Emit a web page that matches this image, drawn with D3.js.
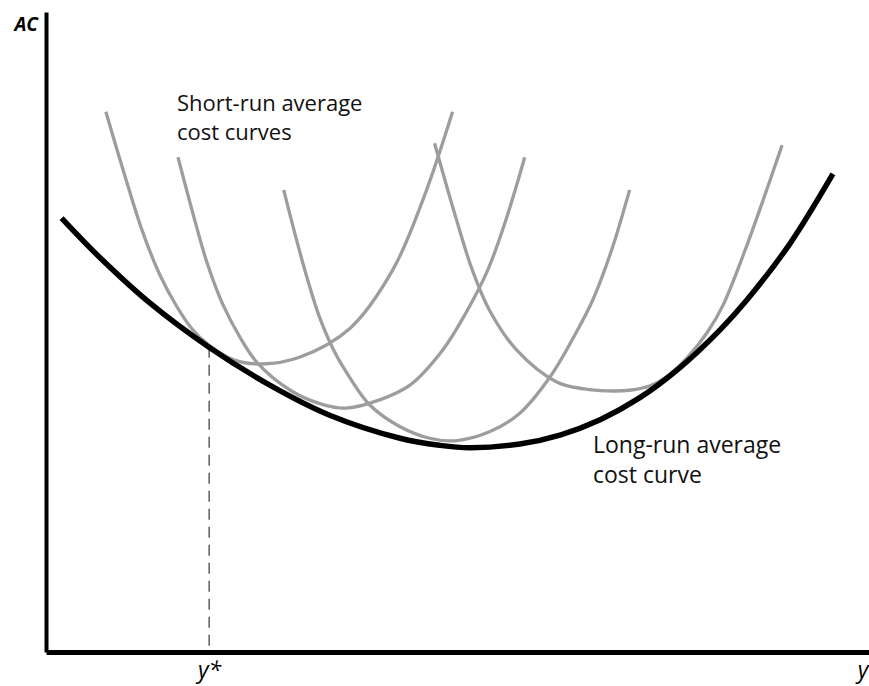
<!DOCTYPE html>
<html>
<head>
<meta charset="utf-8">
<script src="https://cdn.jsdelivr.net/npm/d3@7"></script>
<style>
  html, body { margin: 0; padding: 0; background: #fff; }
  svg { display: block; }
  .lbl { font-family: "Open Sans", "Noto Sans", sans-serif; font-weight: 500; fill: #111; }
</style>
</head>
<body>
<svg id="chart" width="869" height="686"></svg>
<script>
// ---- Data (x = output y, y = average cost) ----
const lracX = [1.9, 6.6, 12.7, 19.8, 27.3, 34.6, 43.2, 48.0, 51.7, 57.8, 62.7, 67.6, 72.4, 77.3, 82.2, 85.5, 90.7, 96.0];
const lracY = [67.8, 61.6, 54.5, 47.7, 41.7, 37.0, 33.4, 32.3, 31.9, 32.5, 33.9, 36.3, 39.7, 44.4, 50.3, 55.0, 63.7, 74.7];

const sracAX = [7.3, 9.6, 11.8, 13.9, 15.9, 17.8, 19.8, 23.0, 26.3, 31.0, 37.1, 42.3, 46.2, 49.6];
const sracAY = [84.4, 74.5, 65.6, 58.9, 54.1, 50.5, 48.0, 45.6, 45.0, 46.1, 50.6, 59.7, 71.4, 84.4];

const sracBX = [16.1, 17.8, 19.6, 21.5, 23.7, 25.7, 29.8, 33.4, 36.5, 40.7, 44.4, 48.4, 51.1, 53.9, 56.3, 58.4];
const sracBY = [77.3, 69.1, 61.0, 54.5, 49.1, 45.3, 40.9, 38.8, 38.1, 39.4, 41.7, 47.2, 52.7, 59.7, 68.3, 77.3];

const sracCX = [29.0, 30.5, 32.0, 33.4, 35.2, 37.1, 39.5, 43.2, 46.8, 49.9, 54.1, 57.8, 61.5, 64.5, 66.7, 69.0, 71.2];
const sracCY = [72.2, 64.7, 57.8, 52.2, 46.9, 42.8, 38.6, 35.2, 33.4, 33.0, 34.4, 37.3, 43.0, 49.5, 55.0, 62.8, 72.2];

const sracDX = [47.4, 49.9, 52.0, 54.1, 57.4, 62.3, 65.7, 68.4, 71.2, 73.7, 76.1, 78.5, 80.7, 82.6, 85.2, 87.7, 89.8];
const sracDY = [79.5, 68.3, 59.7, 53.4, 47.2, 42.2, 41.1, 40.8, 40.9, 41.6, 43.4, 46.4, 50.0, 54.2, 62.5, 71.4, 79.2];

const yStar = 19.9;          // output level where SRAC touches LRAC
const yStarCost = 47.7;      // LRAC value at y*
const xTickValues = [19.9, 99.6];
const xTickLabels = ["y*", "y"];
const yTickValues = [98.1];
const yTickLabels = ["AC"];
const shortRunLabel = ["Short-run average", "cost curves"];
const longRunLabel = ["Long-run average", "cost curve"];

// ---- Scales ----
const svg = d3.select("#chart");
const x = d3.scaleLinear().domain([0, 100.4]).range([46, 869]);
const y = d3.scaleLinear().domain([0, 100]).range([652, 12]);

const line = d3.line()
  .x(d => x(d[0]))
  .y(d => y(d[1]))
  .curve(d3.curveCatmullRom.alpha(0.5));

const zip = (a, b) => a.map((v, i) => [v, b[i]]);

// ---- Short-run curves (gray) ----
const shortRuns = [zip(sracAX, sracAY), zip(sracBX, sracBY), zip(sracCX, sracCY), zip(sracDX, sracDY)];
svg.append("g").selectAll("path").data(shortRuns).join("path")
  .attr("d", line)
  .attr("fill", "none")
  .attr("stroke", "#9d9d9d")
  .attr("stroke-width", 3.3)
  .attr("stroke-linecap", "butt");

// ---- Dashed guide at y* ----
svg.append("line")
  .attr("x1", x(yStar)).attr("x2", x(yStar))
  .attr("y1", y(yStarCost)).attr("y2", y(0))
  .attr("stroke", "#222")
  .attr("stroke-width", 1.1)
  .attr("stroke-dasharray", "11,7");

// ---- Long-run curve (thick black) ----
svg.append("path")
  .datum(zip(lracX, lracY))
  .attr("d", line)
  .attr("fill", "none")
  .attr("stroke", "#000")
  .attr("stroke-width", 5.5)
  .attr("stroke-linecap", "butt");

// ---- Axes ----
const xAxis = d3.axisBottom(x)
  .tickValues(xTickValues)
  .tickFormat((d, i) => xTickLabels[i])
  .tickSize(0).tickPadding(10).tickSizeOuter(0);
const gx = svg.append("g").attr("transform", `translate(0,${y(0)})`).call(xAxis);
gx.select(".domain").attr("stroke", "#000").attr("stroke-width", 5);
gx.selectAll("text")
  .attr("font-family", "'Open Sans', sans-serif")
  .attr("font-style", "italic")
  .attr("font-weight", 500)
  .attr("font-size", 23)
  .attr("fill", "#000");

const yAxis = d3.axisLeft(y)
  .tickValues(yTickValues)
  .tickFormat((d, i) => yTickLabels[i])
  .tickSize(0).tickPadding(8).tickSizeOuter(0);
const gy = svg.append("g").attr("transform", `translate(${x(0)},0)`).call(yAxis);
gy.select(".domain").attr("stroke", "#000").attr("stroke-width", 4);
gy.selectAll("text")
  .attr("font-family", "'Open Sans', sans-serif")
  .attr("font-style", "italic")
  .attr("font-weight", "bold")
  .attr("font-size", 19)
  .attr("fill", "#000");

// ---- Annotations ----
const sr = svg.append("text").attr("class", "lbl").attr("font-size", 22)
  .attr("x", 177).attr("y", 111);
sr.selectAll("tspan").data(shortRunLabel).join("tspan")
  .attr("x", 177).attr("dy", (d, i) => i === 0 ? 0 : 29).text(d => d);

const lr = svg.append("text").attr("class", "lbl").attr("font-size", 23)
  .attr("x", 593).attr("y", 453);
lr.selectAll("tspan").data(longRunLabel).join("tspan")
  .attr("x", 593).attr("dy", (d, i) => i === 0 ? 0 : 30).text(d => d);
</script>
</body>
</html>
